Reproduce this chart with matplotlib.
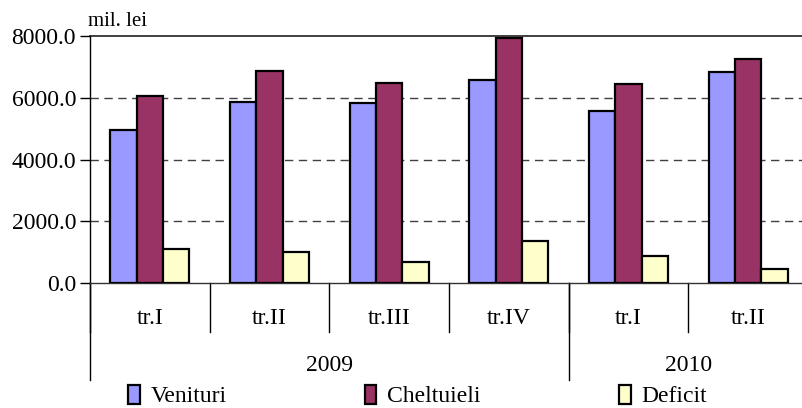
import matplotlib
matplotlib.use("Agg")
import matplotlib.pyplot as plt
from matplotlib.patches import Patch
import numpy as np

plt.rcParams['font.family'] = ['Liberation Serif', 'DejaVu Serif']

quarters = ['tr.I', 'tr.II', 'tr.III', 'tr.IV', 'tr.I', 'tr.II']
years = ['2009', '2010']
year_spans = [(0, 3), (4, 5)]  # first and last quarter index of each year

venituri = [4960, 5860, 5820, 6580, 5580, 6820]
cheltuieli = [6050, 6860, 6490, 7930, 6450, 7250]
deficit = [1090, 1000, 670, 1350, 880, 440]

series = [('Venituri', venituri, '#9999FF'),
          ('Cheltuieli', cheltuieli, '#993366'),
          ('Deficit', deficit, '#FFFFCC')]

fig = plt.figure(figsize=(8.02, 4.08), dpi=100)
ax = fig.add_axes([90 / 802, 125 / 408, 718 / 802, 247 / 408])

x = np.arange(len(quarters))
w = 0.22
for i, (name, vals, col) in enumerate(series):
    ax.bar(x + (i - 1) * w, vals, w, color=col, edgecolor='black',
           linewidth=1.6, label=name, zorder=3)

ax.set_xlim(-0.5, len(quarters) - 0.5)
ax.set_ylim(0, 8000)
ax.set_yticks(np.arange(0, 8001, 2000))
ax.set_yticklabels([f'{v:.1f}' for v in np.arange(0, 8001, 2000)])
ax.tick_params(axis='y', labelsize=17, length=7, width=1, pad=3)
ax.set_xticks([])

# dashed grid, solid line at the top
for v in [2000, 4000, 6000]:
    ax.axhline(v, color='#404040', linestyle=(0, (6, 4)), linewidth=1, zorder=1)
ax.axhline(8000, color='#202020', linewidth=1.2, zorder=1, clip_on=False)

for s in ['top', 'right']:
    ax.spines[s].set_visible(False)
ax.spines['left'].set_linewidth(1)
ax.spines['bottom'].set_linewidth(1)
ax.spines['bottom'].set_color('#333333')

ax.text(-0.003, 1.022, 'mil. lei', transform=ax.transAxes,
        fontsize=15, ha='left', va='bottom')

# two-level category axis
tr = ax.get_xaxis_transform()
for b in np.arange(-0.5, len(quarters) + 0.5, 1.0):
    ax.plot([b, b], [0, -0.198], transform=tr, color='black', lw=1, clip_on=False)
for xi, q in zip(x, quarters):
    ax.text(xi, -0.142, q, transform=tr, ha='center', va='center', fontsize=17)
for (a, b), yr in zip(year_spans, years):
    ax.plot([a - 0.5, a - 0.5], [0, -0.393], transform=tr, color='black', lw=1, clip_on=False)
    ax.text((a + b) / 2, -0.333, yr, transform=tr, ha='center', va='center', fontsize=17)

handles = [Patch(facecolor=c, edgecolor='black', linewidth=1.6) for _, _, c in series]
fig.legend(handles, [s[0] for s in series], ncol=3, loc='center left',
           bbox_to_anchor=(128 / 802, 12 / 408), frameon=False, fontsize=17,
           handlelength=0.5, handleheight=0.85, handletextpad=0.45,
           columnspacing=5.85, borderpad=0, borderaxespad=0)

fig.savefig('out.png', dpi=100)
